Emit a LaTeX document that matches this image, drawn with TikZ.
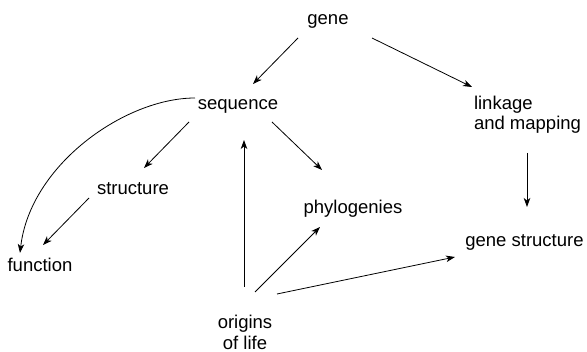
\documentclass[tikz,border=0pt]{standalone}
\usepackage{fontspec}
\setmainfont{Liberation Sans}
\usetikzlibrary{arrows.meta,calc}
\begin{document}
\begin{tikzpicture}[x=1pt,y=-1pt,
  lbl/.style={inner sep=0pt,outer sep=0pt,font=\fontsize{18.5}{20.5}\selectfont},
  arr/.style={line width=0.8pt,-{Stealth[length=9pt,width=6.5pt,inset=2.5pt]}}]
\useasboundingbox (0,0) rectangle (587,352);
\node[lbl,anchor=base] (gene) at (328,25) {gene};
\node[lbl,anchor=base] (seq) at (238,110) {sequence};
\node[lbl,anchor=base west,align=left] (link) at (474,130) {linkage\\and mapping};
\node[lbl,anchor=base] (struct) at (133,195) {structure};
\node[lbl,anchor=base] (func) at (40,272) {function};
\node[lbl,anchor=base] (phylo) at (353,214) {phylogenies};
\node[lbl,anchor=base] (gstruct) at (524.5,247) {gene structure};
\node[lbl,anchor=base,align=center] (orig) at (245,349.5) {origins\\of life};

\draw[arr] ($(gene.base)+(-30,13)$) -- ($(seq.base)+(15,-26)$);
\draw[arr] ($(gene.base)+(44,13)$) -- ($(link.base west)+(-2,-43)$);
\draw[arr] ($(seq.base)+(-49,12)$) -- ($(struct.base)+(11,-27)$);
\draw[arr] ($(struct.base)+(-44,3)$) -- ($(func.base)+(3,-27)$);
\draw[arr] ($(seq.base)+(-43,-12)$) .. controls +(-70,0) and +(10,-88) .. ($(func.base)+(-20,-19)$);
\draw[arr] ($(seq.base)+(34,12)$) -- ($(phylo.base)+(-31,-44)$);
\draw[arr] ($(orig.base)+(-1,-62.5)$) -- ($(seq.base)+(6,30)$);
\draw[arr] ($(orig.base)+(10,-57.5)$) -- ($(phylo.base)+(-33,13)$);
\draw[arr] ($(orig.base)+(32,-55.5)$) -- ($(gstruct.base)+(-69.5,10)$);
\draw[arr] ($(link.base west)+(53,23)$) -- ($(gstruct.base)+(2.5,-40)$);
\end{tikzpicture}
\end{document}
